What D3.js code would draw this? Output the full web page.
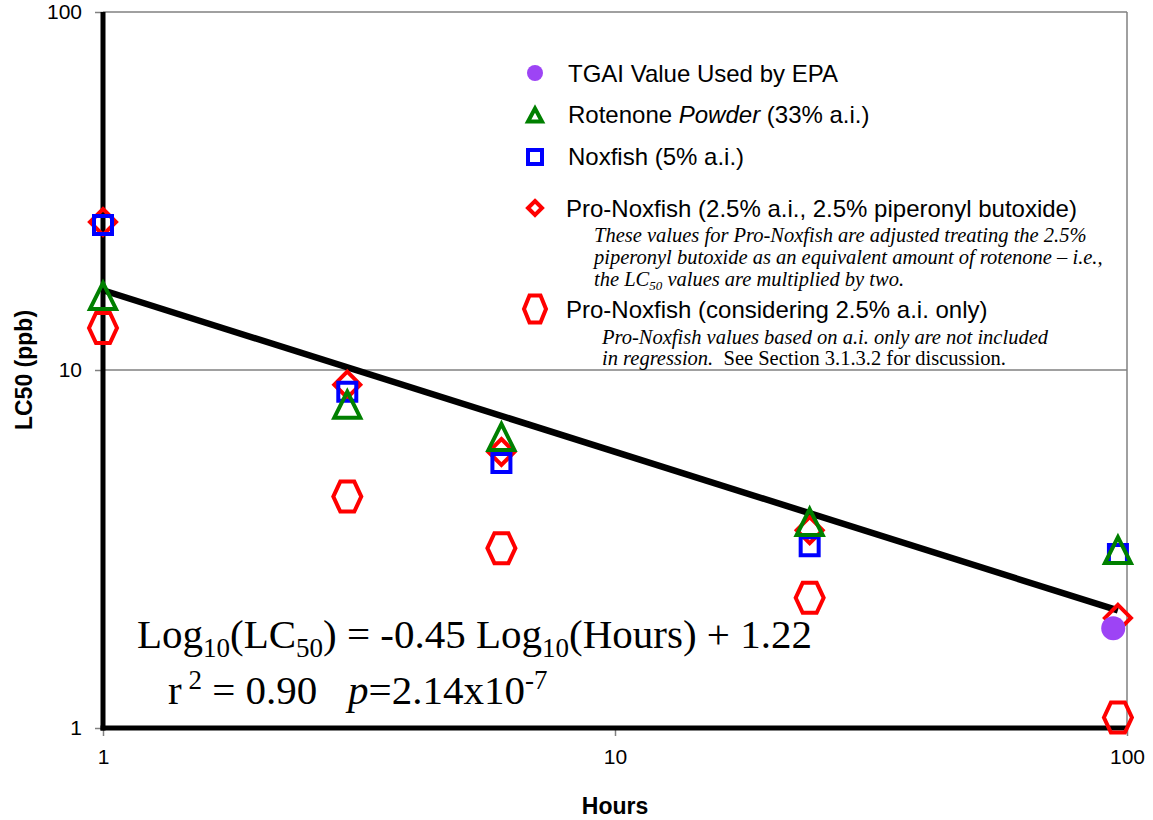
<!DOCTYPE html>
<html>
<head>
<meta charset="utf-8">
<script src="https://cdn.jsdelivr.net/npm/d3@7"></script>
<style>
    body { margin: 0; background: white; }
    .tick-label { font-family: "Liberation Sans", Arial, sans-serif; font-size: 21px; fill: black; }
    .axis-title { font-family: "Liberation Sans", Arial, sans-serif; font-size: 23px; font-weight: bold; }
    .legend-text { font-family: "Liberation Sans", Arial, sans-serif; font-size: 24px; }
    .note-text { font-family: "Liberation Serif", "Times New Roman", serif; font-size: 20.5px; font-style: italic; }
    .eq-text { font-family: "Liberation Serif", "Times New Roman", serif; font-size: 41px; }
</style>
</head>
<body>
<svg id="chart" width="1153" height="820"></svg>
<script>
// values (hours vs LC50 in ppb)
const hours = [1, 3, 6, 24, 96];
const rotenonePowder = [16.1, 8.0, 6.5, 3.76, 3.14];
const noxfish = [25.4, 8.7, 5.5, 3.22, 3.06];
const proNoxfish = [25.9, 9.1, 5.9, 3.57, 2.03];
const proNoxfishAiOnly = [13.1, 4.43, 3.18, 2.31, 1.07];
const tgaiHours = [94];
const tgaiValues = [1.9];
const regressionHours = [1, 96];
const regressionValues = [16.7, 2.13];
const xTicks = [1, 10, 100];
const yTicks = [1, 10, 100];

const svg = d3.select("#chart");
const x = d3.scaleLog().domain([1, 100]).range([103, 1127]);
const y = d3.scaleLog().domain([1, 100]).range([728, 12]);

// marker paths, centred on 0,0
function trianglePath(w, h) {
    return "M0," + (-h / 2) + "L" + (w / 2) + "," + (h / 2) + "L" + (-w / 2) + "," + (h / 2) + "Z";
}
function squarePath(s) {
    return "M" + (-s / 2) + "," + (-s / 2) + "h" + s + "v" + s + "h" + (-s) + "Z";
}
function diamondPath(w, h) {
    return "M0," + (-h / 2) + "L" + (w / 2) + ",0L0," + (h / 2) + "L" + (-w / 2) + ",0Z";
}
function hexagonPath(w, h) {
    let q = w / 4;
    return "M" + (-w / 2) + ",0L" + (-q) + "," + (-h / 2) + "L" + q + "," + (-h / 2) + "L" + (w / 2) + ",0L" + q + "," + (h / 2) + "L" + (-q) + "," + (h / 2) + "Z";
}

// grid lines and plot frame
svg.append("line").attr("x1", x(1)).attr("x2", x(100)).attr("y1", y(10)).attr("y2", y(10)).attr("stroke", "#808080").attr("stroke-width", 1.5);
svg.append("line").attr("x1", x(1)).attr("x2", x(100)).attr("y1", y(100)).attr("y2", y(100)).attr("stroke", "#808080").attr("stroke-width", 1.5);
svg.append("line").attr("x1", x(100)).attr("x2", x(100)).attr("y1", y(100)).attr("y2", y(1)).attr("stroke", "#808080").attr("stroke-width", 1.5);

// axes
let yAxis = svg.append("g").attr("transform", "translate(" + x(1) + ",0)")
    .call(d3.axisLeft(y).tickValues(yTicks).tickFormat(d3.format("d")).tickSize(8).tickPadding(13));
let xAxis = svg.append("g").attr("transform", "translate(0," + y(1) + ")")
    .call(d3.axisBottom(x).tickValues(xTicks).tickFormat(d3.format("d")).tickSize(8).tickPadding(13));
[yAxis, xAxis].forEach(a => {
    a.select(".domain").remove();
    a.selectAll("text").attr("class", "tick-label").attr("font-family", null).attr("font-size", null);
    a.selectAll(".tick line").attr("stroke", "#808080").attr("stroke-width", 1.5);
});
svg.append("line").attr("x1", x(1)).attr("x2", x(1)).attr("y1", y(100)).attr("y2", y(1) + 2.5).attr("stroke", "black").attr("stroke-width", 5);
svg.append("line").attr("x1", x(1) - 2.5).attr("x2", x(100)).attr("y1", y(1)).attr("y2", y(1)).attr("stroke", "black").attr("stroke-width", 5);

svg.append("text").attr("class", "axis-title").attr("x", x(10)).attr("y", 814).attr("text-anchor", "middle").text("Hours");
svg.append("text").attr("class", "axis-title").attr("transform", "translate(32," + y(10) + ") rotate(-90)").attr("text-anchor", "middle").text("LC50 (ppb)");

// regression line
let line = d3.line().x(d => x(d[0])).y(d => y(d[1]));
svg.append("path").datum(d3.zip(regressionHours, regressionValues)).attr("d", line)
    .attr("fill", "none").attr("stroke", "black").attr("stroke-width", 6.5);

// series, drawn back to front
svg.append("g").selectAll("path").data(d3.zip(hours, proNoxfishAiOnly)).join("path")
    .attr("transform", d => "translate(" + x(d[0]) + "," + y(d[1]) + ")")
    .attr("d", hexagonPath(28, 30)).attr("fill", "none").attr("stroke", "red").attr("stroke-width", 4);
svg.append("g").selectAll("path").data(d3.zip(hours, proNoxfish)).join("path")
    .attr("transform", d => "translate(" + x(d[0]) + "," + y(d[1]) + ")")
    .attr("d", diamondPath(26, 26)).attr("fill", "none").attr("stroke", "red").attr("stroke-width", 4);
svg.append("g").selectAll("path").data(d3.zip(hours, noxfish)).join("path")
    .attr("transform", d => "translate(" + x(d[0]) + "," + y(d[1]) + ")")
    .attr("d", squarePath(18)).attr("fill", "none").attr("stroke", "blue").attr("stroke-width", 4);
svg.append("g").selectAll("path").data(d3.zip(hours, rotenonePowder)).join("path")
    .attr("transform", d => "translate(" + x(d[0]) + "," + y(d[1]) + ")")
    .attr("d", trianglePath(26, 26)).attr("fill", "none").attr("stroke", "green").attr("stroke-width", 4).attr("stroke-linejoin", "miter");
svg.append("g").selectAll("circle").data(d3.zip(tgaiHours, tgaiValues)).join("circle")
    .attr("cx", d => x(d[0])).attr("cy", d => y(d[1])).attr("r", 12).attr("fill", "#9d44f5");

// legend
let legend = svg.append("g");
legend.append("circle").attr("cx", 535).attr("cy", 73).attr("r", 8).attr("fill", "#9d44f5");
legend.append("path").attr("transform", "translate(535,115)").attr("d", trianglePath(14, 13)).attr("fill", "none").attr("stroke", "green").attr("stroke-width", 4);
legend.append("path").attr("transform", "translate(535,157)").attr("d", squarePath(14)).attr("fill", "none").attr("stroke", "blue").attr("stroke-width", 4);
legend.append("path").attr("transform", "translate(535,208)").attr("d", diamondPath(14, 14)).attr("fill", "none").attr("stroke", "red").attr("stroke-width", 4);
legend.append("path").attr("transform", "translate(535,309)").attr("d", hexagonPath(22, 27)).attr("fill", "none").attr("stroke", "red").attr("stroke-width", 4);

legend.append("text").attr("class", "legend-text").attr("x", 568).attr("y", 82).text("TGAI Value Used by EPA");
let rot = legend.append("text").attr("class", "legend-text").attr("x", 568).attr("y", 123);
rot.append("tspan").text("Rotenone ");
rot.append("tspan").attr("font-style", "italic").text("Powder");
rot.append("tspan").text(" (33% a.i.)");
legend.append("text").attr("class", "legend-text").attr("x", 568).attr("y", 165).text("Noxfish (5% a.i.)");
legend.append("text").attr("class", "legend-text").attr("x", 566).attr("y", 217).text("Pro-Noxfish (2.5% a.i., 2.5% piperonyl butoxide)");
legend.append("text").attr("class", "note-text").attr("x", 594).attr("y", 242).text("These values for Pro-Noxfish are adjusted treating the 2.5%");
legend.append("text").attr("class", "note-text").attr("x", 594).attr("y", 264).text("piperonyl butoxide as an equivalent amount of rotenone \u2013 i.e.,");
let lcNote = legend.append("text").attr("class", "note-text").attr("x", 594).attr("y", 286);
lcNote.append("tspan").text("the LC");
lcNote.append("tspan").attr("font-size", "13px").attr("dy", 4).text("50");
lcNote.append("tspan").attr("dy", -4).text(" values are multiplied by two.");
legend.append("text").attr("class", "legend-text").attr("x", 566).attr("y", 318).text("Pro-Noxfish (considering 2.5% a.i. only)");
legend.append("text").attr("class", "note-text").attr("x", 602).attr("y", 344).text("Pro-Noxfish values based on a.i. only are not included");
let regNote = legend.append("text").attr("class", "note-text").attr("x", 602).attr("y", 365);
regNote.append("tspan").text("in regression.");
regNote.append("tspan").attr("font-style", "normal").text("\u00a0 See Section 3.1.3.2 for discussion.");

// regression equation
let eq = svg.append("text").attr("class", "eq-text").attr("x", 137).attr("y", 648);
eq.append("tspan").text("Log");
eq.append("tspan").attr("font-size", "27px").attr("dy", 9).text("10");
eq.append("tspan").attr("dy", -9).text("(LC");
eq.append("tspan").attr("font-size", "27px").attr("dy", 9).text("50");
eq.append("tspan").attr("dy", -9).text(") = -0.45 Log");
eq.append("tspan").attr("font-size", "27px").attr("dy", 9).text("10");
eq.append("tspan").attr("dy", -9).text("(Hours) + 1.22");

let stat = svg.append("text").attr("class", "eq-text").attr("x", 168).attr("y", 704);
stat.append("tspan").text("r");
stat.append("tspan").attr("font-size", "27px").attr("dy", -15).text("\u00a02");
stat.append("tspan").attr("dy", 15).text(" = 0.90\u00a0\u00a0 ");
stat.append("tspan").attr("font-style", "italic").text("p");
stat.append("tspan").text("=2.14x10");
stat.append("tspan").attr("font-size", "27px").attr("dy", -15).text("-7");
</script>
</body>
</html>
